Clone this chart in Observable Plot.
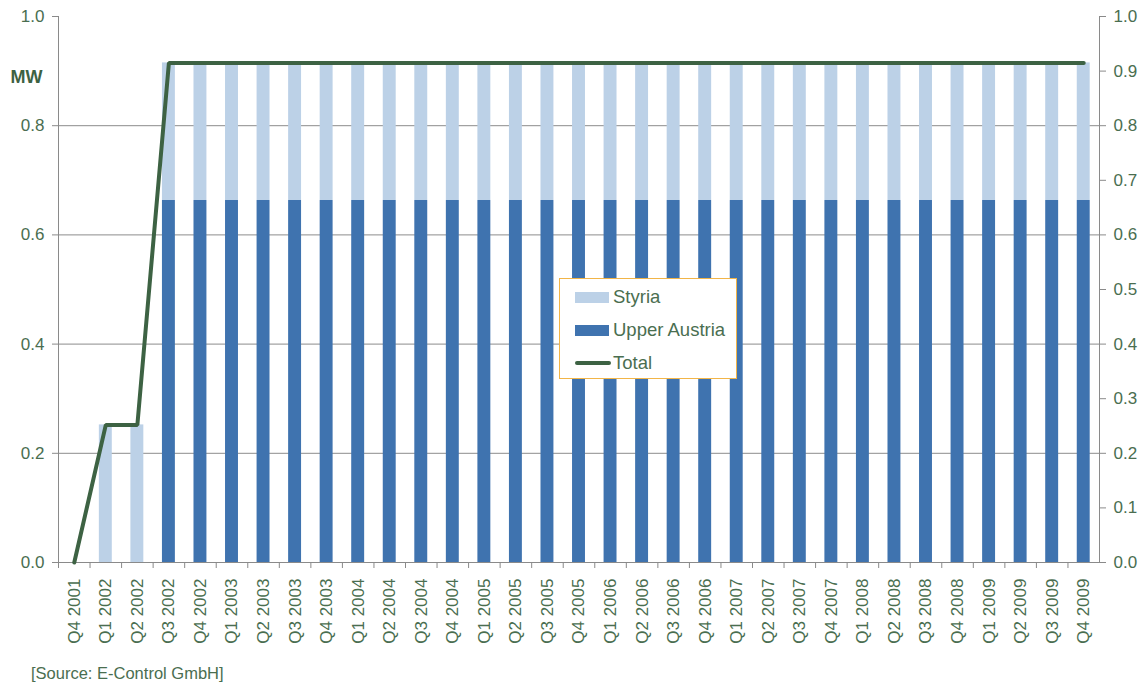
<!DOCTYPE html>
<html>
<head>
<meta charset="utf-8">
<script src="https://cdn.jsdelivr.net/npm/d3@7"></script>
<script src="https://cdn.jsdelivr.net/npm/@observablehq/plot@0.6"></script>
<style>
  body { margin: 0; background: #fff; font-family: "Liberation Sans", Arial, sans-serif; }
  #wrap { position: relative; width: 1145px; height: 684px; }
  #legend { position: absolute; left: 559px; top: 278px; width: 176px; height: 99px;
    border: 1px solid #F2B548; background: #fff; font-size: 18.5px; color: #4A6E50; }
  .row { position: absolute; left: 15px; height: 20px; display: flex; align-items: center; }
  .sw { width: 34px; height: 11px; margin-right: 4px; }
  .ln { width: 36px; height: 4px; border-radius: 2px; background: #3D6243; margin-right: 2px; }
  #source { position: absolute; left: 31px; top: 664px; font-size: 16.5px; color: #4A6E50; }
</style>
</head>
<body>
<div id="wrap">
  <div id="chart"></div>
  <div id="legend">
    <div class="row" style="top:8px"><div class="sw" style="background:#BCD1E7"></div>Styria</div>
    <div class="row" style="top:41px"><div class="sw" style="background:#3F73AF"></div>Upper Austria</div>
    <div class="row" style="top:74px"><div class="ln"></div>Total</div>
  </div>
  <div id="source">[Source: E-Control GmbH]</div>
</div>
<script>
const quarters = ["Q4 2001","Q1 2002","Q2 2002","Q3 2002","Q4 2002","Q1 2003","Q2 2003","Q3 2003","Q4 2003",
  "Q1 2004","Q2 2004","Q3 2004","Q4 2004","Q1 2005","Q2 2005","Q3 2005","Q4 2005",
  "Q1 2006","Q2 2006","Q3 2006","Q4 2006","Q1 2007","Q2 2007","Q3 2007","Q4 2007",
  "Q1 2008","Q2 2008","Q3 2008","Q4 2008","Q1 2009","Q2 2009","Q3 2009","Q4 2009"];
const styria = [0, 0.252, 0.252, 0.252, 0.252, 0.252, 0.252, 0.252, 0.252,
  0.252, 0.252, 0.252, 0.252, 0.252, 0.252, 0.252, 0.252,
  0.252, 0.252, 0.252, 0.252, 0.252, 0.252, 0.252, 0.252,
  0.252, 0.252, 0.252, 0.252, 0.252, 0.252, 0.252, 0.252];
const upperAustria = [0, 0, 0, 0.663, 0.663, 0.663, 0.663, 0.663, 0.663,
  0.663, 0.663, 0.663, 0.663, 0.663, 0.663, 0.663, 0.663,
  0.663, 0.663, 0.663, 0.663, 0.663, 0.663, 0.663, 0.663,
  0.663, 0.663, 0.663, 0.663, 0.663, 0.663, 0.663, 0.663];
const total = [0, 0.252, 0.252, 0.915, 0.915, 0.915, 0.915, 0.915, 0.915,
  0.915, 0.915, 0.915, 0.915, 0.915, 0.915, 0.915, 0.915,
  0.915, 0.915, 0.915, 0.915, 0.915, 0.915, 0.915, 0.915,
  0.915, 0.915, 0.915, 0.915, 0.915, 0.915, 0.915, 0.915];
const leftTicks = [0, 0.2, 0.4, 0.6, 0.8, 1.0];
const rightTicks = [0, 0.1, 0.2, 0.3, 0.4, 0.5, 0.6, 0.7, 0.8, 0.9, 1.0];
const gridTicks = [0.2, 0.4, 0.6, 0.8];

const barRows = [];
quarters.forEach((q, i) => {
  barRows.push({q, series: "Upper Austria", v: upperAustria[i]});
  barRows.push({q, series: "Styria", v: styria[i]});
});
const lineRows = quarters.map((q, i) => ({q, v: total[i]}));

const W = 1145, H = 650, mL = 58, mR = 46, mT = 16, mB = 88;
const step = (W - mL - mR) / quarters.length;
const txt = "#4A6E50", axisCol = "#8A8A8A";

const chart = Plot.plot({
  width: W, height: H,
  marginLeft: mL, marginRight: mR, marginTop: mT, marginBottom: mB,
  style: {fontFamily: "'Liberation Sans', Arial, sans-serif", fontSize: "17px", color: txt, background: "#fff"},
  x: {domain: quarters, paddingInner: 0.59, paddingOuter: 0.295, round: false, label: null},
  y: {domain: [0, 1], label: null},
  color: {domain: ["Styria", "Upper Austria"], range: ["#BCD1E7", "#3F73AF"]},
  marks: [
    Plot.gridY(gridTicks, {stroke: "#8C8C8C", strokeOpacity: 1}),
    Plot.barY(barRows, {x: "q", y: "v", fill: "series"}),
    Plot.frame({anchor: "left", stroke: axisCol}),
    Plot.frame({anchor: "right", stroke: axisCol}),
    Plot.frame({anchor: "bottom", stroke: axisCol}),
    Plot.axisY(leftTicks, {anchor: "left", tickSize: 6, tickPadding: 8, stroke: axisCol, fill: txt, tickFormat: d3.format(".1f"), fontSize: 17, label: null}),
    Plot.axisY(rightTicks, {anchor: "right", tickSize: 6, tickPadding: 8, stroke: axisCol, fill: txt, tickFormat: d3.format(".1f"), fontSize: 17, label: null}),
    Plot.axisX({tickSize: 6, dx: -step / 2, stroke: axisCol, tickFormat: () => "", label: null}),
    Plot.axisX({tickSize: 0, tickPadding: 16, tickRotate: -90, fill: txt, fontSize: 17, label: null}),
    Plot.line(lineRows, {x: "q", y: "v", stroke: "#3D6243", strokeWidth: 4, strokeLinejoin: "miter", strokeLinecap: "round"}),
    Plot.text(["MW"], {frameAnchor: "top-left", dx: -32, dy: 54, fontWeight: "bold", fontSize: 18, fill: "#3D6243", textAnchor: "middle"})
  ]
});
document.getElementById("chart").appendChild(chart);
</script>
</body>
</html>
